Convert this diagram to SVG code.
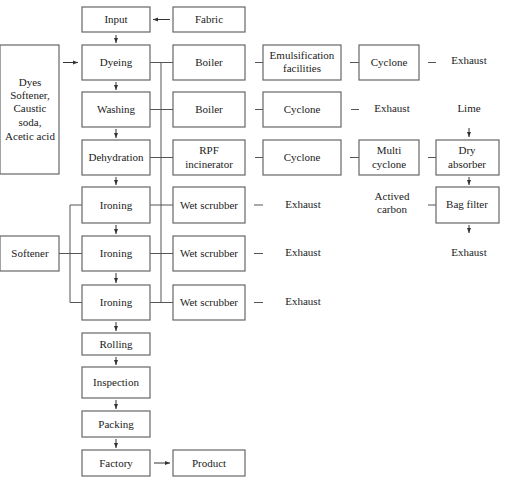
<svg xmlns="http://www.w3.org/2000/svg" width="507" height="477" viewBox="0 0 507 477">
<defs>
<marker id="ah" markerWidth="6" markerHeight="6" refX="5" refY="3" orient="auto" markerUnits="userSpaceOnUse">
<path d="M0,1 L5,3 L0,5 z" fill="#333"/>
</marker>
</defs>
<style>
.b{fill:#fff;stroke:#666;stroke-width:1.2}
.t{font-family:"Liberation Serif","Times New Roman",serif;font-size:11px;fill:#222;text-anchor:middle}
.l{stroke:#555;stroke-width:1;fill:none}
.a{stroke:#333;stroke-width:1;fill:none;marker-end:url(#ah)}
</style>
<rect width="507" height="477" fill="#fff"/>
<g id="connectors">
<path class="a" d="M170,19.5 H153"/>
<path class="a" d="M63,62.5 H78"/>
<path class="a" d="M154,463 H170"/>
<path class="a" d="M116,35 V43"/>
<path class="a" d="M116,82 V90"/>
<path class="a" d="M116,129 V138"/>
<path class="a" d="M116,177 V185"/>
<path class="a" d="M116,225 V234"/>
<path class="a" d="M116,273 V283"/>
<path class="a" d="M116,322 V331"/>
<path class="a" d="M116,357 V365"/>
<path class="a" d="M116,400 V409"/>
<path class="a" d="M116,439 V448"/>
<path class="a" d="M469,128 V137"/>
<path class="a" d="M469,177 V185"/>
<path class="a" d="M469,225 V233"/>
<path class="l" d="M161,62.5 V302.5"/>
<path class="l" d="M150,62.5 H173 M150,109.5 H173 M150,157.5 H173 M150,205 H173 M150,253.5 H173 M150,302.5 H173"/>
<path class="l" d="M70,205 V302.5 M70,205 H82 M59,253.5 H82 M70,302.5 H82"/>
<path class="l" d="M255,62.5 H263 M350,62.5 H359 M428,62.5 H436"/>
<path class="l" d="M255,109.5 H263 M351,109.5 H359"/>
<path class="l" d="M255,157.5 H263 M350,157.5 H359 M428,157.5 H436"/>
<path class="l" d="M254,205 H263 M428,205 H436"/>
<path class="l" d="M254,253.5 H263"/>
<path class="l" d="M254,302.5 H263"/>
</g>
<g id="input"><rect class="b" x="82" y="7" width="68" height="25"/><text class="t" x="116" y="23">Input</text></g>
<g id="fabric"><rect class="b" x="173" y="7" width="72" height="25"/><text class="t" x="209" y="23">Fabric</text></g>
<g id="dyes"><rect class="b" x="0" y="45" width="59" height="129"/>
<text class="t" x="30" y="86">Dyes</text><text class="t" x="30" y="99">Softener,</text><text class="t" x="30" y="112">Caustic</text><text class="t" x="30" y="126">soda,</text><text class="t" x="30" y="140">Acetic acid</text></g>
<g id="dyeing"><rect class="b" x="82" y="45" width="68" height="35"/><text class="t" x="116" y="66">Dyeing</text></g>
<g id="washing"><rect class="b" x="82" y="92" width="68" height="35"/><text class="t" x="116" y="113">Washing</text></g>
<g id="dehydration"><rect class="b" x="82" y="140" width="68" height="35"/><text class="t" x="116" y="161">Dehydration</text></g>
<g id="ironing1"><rect class="b" x="82" y="187" width="68" height="36"/><text class="t" x="116" y="209">Ironing</text></g>
<g id="ironing2"><rect class="b" x="82" y="236" width="68" height="35"/><text class="t" x="116" y="257">Ironing</text></g>
<g id="ironing3"><rect class="b" x="82" y="285" width="68" height="35"/><text class="t" x="116" y="306">Ironing</text></g>
<g id="rolling"><rect class="b" x="82" y="333" width="68" height="22"/><text class="t" x="116" y="348">Rolling</text></g>
<g id="inspection"><rect class="b" x="82" y="367" width="68" height="31"/><text class="t" x="116" y="386">Inspection</text></g>
<g id="packing"><rect class="b" x="82" y="411" width="68" height="26"/><text class="t" x="116" y="428">Packing</text></g>
<g id="factory"><rect class="b" x="82" y="450" width="68" height="26"/><text class="t" x="116" y="467">Factory</text></g>
<g id="product"><rect class="b" x="173" y="450" width="72" height="26"/><text class="t" x="209" y="467">Product</text></g>
<g id="softener"><rect class="b" x="0" y="236" width="59" height="35"/><text class="t" x="30" y="257">Softener</text></g>
<g id="boiler1"><rect class="b" x="173" y="45" width="72" height="35"/><text class="t" x="209" y="66">Boiler</text></g>
<g id="boiler2"><rect class="b" x="173" y="92" width="72" height="35"/><text class="t" x="209" y="113">Boiler</text></g>
<g id="rpf"><rect class="b" x="173" y="140" width="72" height="35"/><text class="t" x="209" y="154">RPF</text><text class="t" x="209" y="168">incinerator</text></g>
<g id="wet1"><rect class="b" x="173" y="187" width="72" height="36"/><text class="t" x="209" y="209">Wet scrubber</text></g>
<g id="wet2"><rect class="b" x="173" y="236" width="72" height="35"/><text class="t" x="209" y="257">Wet scrubber</text></g>
<g id="wet3"><rect class="b" x="173" y="285" width="72" height="35"/><text class="t" x="209" y="306">Wet scrubber</text></g>
<g id="emulsification"><rect class="b" x="263" y="45" width="78" height="35"/><text class="t" x="302" y="59">Emulsification</text><text class="t" x="302" y="72">facilities</text></g>
<g id="cyclone1"><rect class="b" x="359" y="45" width="60" height="35"/><text class="t" x="389" y="66">Cyclone</text></g>
<g id="exhaust1"><text class="t" x="469" y="64">Exhaust</text></g>
<g id="cyclone2"><rect class="b" x="263" y="92" width="78" height="35"/><text class="t" x="302" y="113">Cyclone</text></g>
<g id="exhaust2"><text class="t" x="392" y="112">Exhaust</text></g>
<g id="lime"><text class="t" x="469" y="112">Lime</text></g>
<g id="cyclone3"><rect class="b" x="263" y="140" width="78" height="35"/><text class="t" x="302" y="161">Cyclone</text></g>
<g id="multicyclone"><rect class="b" x="359" y="140" width="60" height="35"/><text class="t" x="389" y="154">Multi</text><text class="t" x="389" y="168">cyclone</text></g>
<g id="dryabsorber"><rect class="b" x="436" y="140" width="63" height="35"/><text class="t" x="467" y="154">Dry</text><text class="t" x="467" y="168">absorber</text></g>
<g id="exhaust3"><text class="t" x="303" y="208">Exhaust</text></g>
<g id="carbon"><text class="t" x="392" y="200">Actived</text><text class="t" x="392" y="213">carbon</text></g>
<g id="bagfilter"><rect class="b" x="436" y="187" width="63" height="36"/><text class="t" x="467" y="208">Bag filter</text></g>
<g id="exhaust4"><text class="t" x="303" y="256">Exhaust</text></g>
<g id="exhaust5"><text class="t" x="469" y="256">Exhaust</text></g>
<g id="exhaust6"><text class="t" x="303" y="305">Exhaust</text></g>
</svg>
